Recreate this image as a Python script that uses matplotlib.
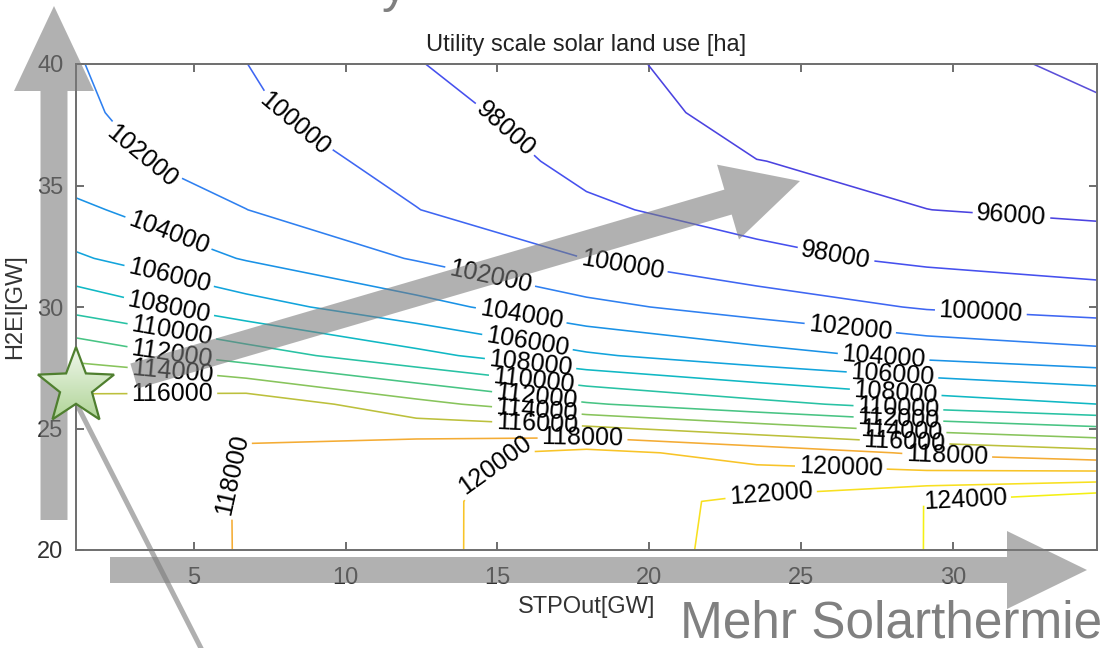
import numpy as np
import matplotlib.pyplot as plt
from matplotlib.colors import LinearSegmentedColormap
from matplotlib.patches import Polygon

plt.rcParams['font.family'] = ['Liberation Sans', 'DejaVu Sans']

# grid of the model run (STPOut columns, H2El rows)
stp_out = [1.13, 6.73, 12.33, 17.93, 23.53, 29.13, 34.73]
h2el = [20, 22, 24, 26, 28, 30, 32, 34, 36, 38, 40]

# utility scale solar land use [ha], one row per H2El value
land_use = [
    [116650, 118120, 119590, 121064, 122537, 124030, 125480],
    [116700, 118120, 119590, 121060, 122450, 124030, 125550],
    [116620, 118130, 119330, 120612, 119200, 117700, 116667],
    [116670, 117450, 114650, 112208, 110604, 109100, 108010],
    [113540, 111000, 108564, 106278, 104769, 103495, 102659],
    [109316, 106786, 104700, 102513, 101143, 99808, 99219],
    [106255, 103862, 101855, 99978, 98500, 97606, 97023],
    [104424, 102020, 100045, 98300, 97241, 96010, 95685],
    [102700, 101000, 99355, 97500, 96030, 95528, 94962],
    [102351, 100300, 98694, 97030, 95266, 95056, 94239],
    [102112, 100017, 98083, 96560, 95000, 94584, 93650],
]

levels = list(range(94000, 126000, 2000))

# where the labels sit on the lines
label_spots = [
    (31.9, 33.5),
    (14.8, 36.7), (26.1, 31.9),
    (8.2, 37.3), (19.1, 31.7), (30.9, 29.6),
    (3.6, 36.5), (14.7, 30.9), (26.6, 29.0),
    (4.1, 32.8), (15.8, 29.8), (27.7, 27.8),
    (4.2, 31.3), (16.0, 28.65), (28.0, 27.2),
    (4.2, 30.1), (16.1, 27.8), (28.1, 26.4),
    (4.3, 29.1), (16.2, 27.1), (28.2, 26.0),
    (4.3, 28.2), (16.3, 26.4), (28.2, 25.5),
    (4.3, 27.3), (16.3, 25.8), (28.3, 25.0),
    (4.3, 26.4), (16.3, 25.15), (28.4, 24.5),
    (6.5, 23.1), (17.8, 24.65), (29.8, 23.9),
    (14.8, 23.6), (26.3, 23.4),
    (24.0, 22.4),
    (30.4, 21.85),
]

# line colours as they show up in the picture (parula-like)
line_cmap = LinearSegmentedColormap.from_list('lines', [
    '#5b50d8', '#4b43e0', '#4650ee', '#3f66f2', '#2f80f0', '#1a92e6',
    '#12a4dc', '#10b8c4', '#28c2a4', '#48c484', '#88c45c', '#bcc03c',
    '#f4ac34', '#f8c428', '#f8e020', '#f4f014'])

W, H = 1104, 648
fig = plt.figure(figsize=(W / 100, H / 100), dpi=100)
ax = fig.add_axes([76 / W, 98 / H, 1021 / W, 486 / H])

X, Y = np.meshgrid(stp_out, h2el)
Z = np.array(land_use, dtype=float)
cs = ax.contour(X, Y, Z, levels=levels, cmap=line_cmap,
                vmin=levels[0], vmax=levels[-1], linewidths=1.15)
ax.clabel(cs, manual=label_spots, inline=True, inline_spacing=4,
          fmt='%d', fontsize=18, colors='k')

ax.set_xlim(stp_out[0], stp_out[-1])
ax.set_ylim(h2el[0], h2el[-1])
ax.set_xticks([5, 10, 15, 20, 25, 30])
ax.set_yticks([20, 25, 30, 35, 40])
ax.tick_params(direction='in', top=True, right=True, length=6, width=1.2,
               color='#555555', labelcolor='#333333', labelsize=17)
ax.tick_params(axis='x', pad=12)
ax.tick_params(axis='y', pad=9)
for sp in ax.spines.values():
    sp.set_color('#6e6e6e')
    sp.set_linewidth(1.4)

ax.set_title('Utility scale solar land use [ha]', fontsize=17, color='#222222',
             y=1 + 19 / 486, va='center', pad=0)
ax.set_xlabel('STPOut[GW]', fontsize=17, color='#333333', va='center')
ax.xaxis.set_label_coords(0.5, -57 / 486)
ax.set_ylabel('H2El[GW]', fontsize=17, color='#333333', va='center', ha='center')
ax.yaxis.set_label_coords(-61 / 1021, 0.5)

# annotation layer in pixel coordinates
ov = fig.add_axes([0, 0, 1, 1])
ov.set_xlim(0, W)
ov.set_ylim(H, 0)
ov.set_autoscale_on(False)
ov.axis('off')
ov.patch.set_visible(False)


def arrow_shape(x0, y0, x1, y1, w, hw, hl):
    d = np.array([x1 - x0, y1 - y0], dtype=float)
    u = d / np.hypot(*d)
    n = np.array([-u[1], u[0]])
    s = np.array([x0, y0], dtype=float)
    t = np.array([x1, y1], dtype=float)
    b = t - u * hl
    return [s + n * w / 2, b + n * w / 2, b + n * hw / 2, t,
            b - n * hw / 2, b - n * w / 2, s - n * w / 2]


arrow_kw = dict(facecolor='#7a7a7a', edgecolor='none', alpha=0.58)
ov.add_patch(Polygon(arrow_shape(54, 520, 54, 6, 27, 80, 85), **arrow_kw))
ov.add_patch(Polygon(arrow_shape(110, 570, 1087, 570, 26, 78, 80), **arrow_kw))
ov.add_patch(Polygon(arrow_shape(134, 376, 800, 181, 26, 78, 75), **arrow_kw))

ov.plot([72, 207], [395, 660], color='#7a7a7a', alpha=0.6, lw=3.6,
        solid_capstyle='butt')

# star
cx, cy, R = 76, 387, 40
ang = np.deg2rad(-90 + 36 * np.arange(10))
rad = np.where(np.arange(10) % 2 == 0, R, R * 0.42)
star_pts = np.column_stack([cx + rad * np.cos(ang), cy + rad * np.sin(ang)])
star = Polygon(star_pts, facecolor='none', edgecolor='#4f7f2f', lw=1.6, zorder=4)
ov.add_patch(star)
grad = ov.imshow(np.linspace(0, 1, 100).reshape(-1, 1),
                 cmap=LinearSegmentedColormap.from_list('g', ['#f0f7ec', '#a9d18e']),
                 extent=(cx - R, cx + R, cy + R, cy - R), aspect='auto', zorder=3)
grad.set_clip_path(star)

ov.text(1102, 637, 'Mehr Solarthermie', fontsize=37, color='#808080',
        ha='right', va='baseline')
# tail of a heading that lies above the slide crop
ov.text(382, 1, 'y', fontsize=37, color='#808080', ha='left', va='baseline')

fig.savefig('out.png', dpi=100)
